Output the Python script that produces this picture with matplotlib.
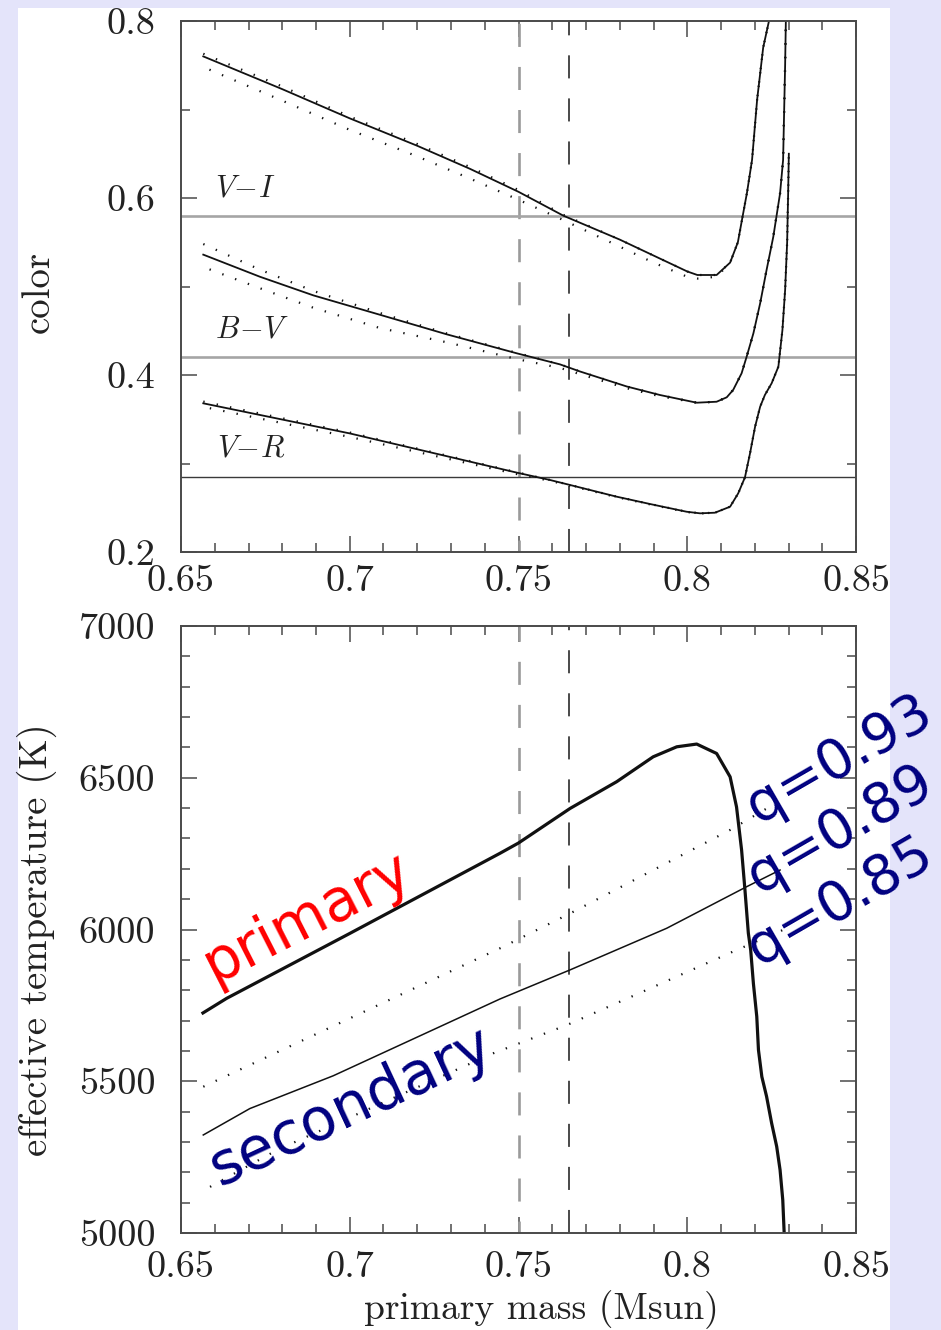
import matplotlib
matplotlib.use("Agg")
import matplotlib.pyplot as plt
from matplotlib.patches import Rectangle
from matplotlib.ticker import FixedLocator, FixedFormatter, MultipleLocator

plt.rcParams['lines.scale_dashes'] = False
plt.rcParams['mathtext.fontset'] = 'cm'
plt.rcParams['font.family'] = ['cmr10', 'DejaVu Serif']
plt.rcParams['axes.formatter.use_mathtext'] = True

# ---------------- data: top panel (colours) ----------------
vi_mass = [0.6566, 0.68, 0.70, 0.72, 0.7356, 0.75, 0.7633, 0.78, 0.79, 0.80, 0.803,
           0.8087, 0.8127, 0.8150, 0.8162, 0.8177, 0.8192, 0.8207, 0.8225, 0.8245]
vi_solid = [0.760, 0.723, 0.690, 0.659, 0.633, 0.607, 0.580, 0.553, 0.535, 0.517, 0.513,
            0.513, 0.527, 0.550, 0.575, 0.606, 0.643, 0.711, 0.770, 0.805]
vi_hi = [0.763, 0.726, 0.692, 0.661, 0.635, 0.609, 0.581, 0.553, 0.535, 0.517, 0.513,
         0.513, 0.527, 0.550, 0.575, 0.606, 0.643, 0.711, 0.770, 0.805]
vi_lo = [0.748, 0.710, 0.677, 0.647, 0.622, 0.598, 0.575, 0.545, 0.527, 0.511, 0.509,
         0.511, 0.527, 0.550, 0.575, 0.606, 0.643, 0.711, 0.770, 0.805]

bv_mass = [0.6566, 0.6734, 0.6892, 0.7090, 0.7287, 0.7495, 0.7623, 0.7682, 0.7821, 0.7919,
           0.8028, 0.8087, 0.8117, 0.8136, 0.8161, 0.8176, 0.8196, 0.8216, 0.8235, 0.8255,
           0.8275, 0.8284, 0.8290, 0.8293]
bv_solid = [0.536, 0.511, 0.490, 0.468, 0.446, 0.4245, 0.412, 0.404, 0.387, 0.3774,
            0.3687, 0.3698, 0.3748, 0.3831, 0.4019, 0.4207, 0.4471, 0.4810, 0.5186, 0.5563,
            0.6053, 0.643, 0.750, 0.820]
bv_hi = [0.548, 0.519, 0.495, 0.470, 0.447, 0.425, 0.412, 0.404, 0.387, 0.3774,
         0.3687, 0.3698, 0.3748, 0.3831, 0.4019, 0.4207, 0.4471, 0.4810, 0.5186, 0.5563,
         0.6053, 0.643, 0.750, 0.820]
bv_lo = [0.522, 0.498, 0.476, 0.453, 0.437, 0.418, 0.408, 0.401, 0.385, 0.376,
         0.3687, 0.3698, 0.3748, 0.3831, 0.4019, 0.4207, 0.4471, 0.4810, 0.5186, 0.5563,
         0.6053, 0.643, 0.750, 0.820]

vr_mass = [0.6566, 0.70, 0.7496, 0.7593, 0.7653, 0.7791, 0.7890, 0.7998, 0.8038, 0.8082,
           0.8127, 0.8151, 0.8171, 0.8186, 0.8201, 0.8216, 0.8230, 0.8250, 0.8270, 0.8282,
           0.8290, 0.8296, 0.8299, 0.8301]
vr_solid = [0.368, 0.334, 0.2896, 0.2814, 0.2757, 0.2625, 0.2542, 0.2455, 0.2437, 0.2444,
            0.2512, 0.2663, 0.2844, 0.3115, 0.3416, 0.3642, 0.3774, 0.3906, 0.4094, 0.4508,
            0.4960, 0.5500, 0.6060, 0.6500]
vr_hi = [0.370, 0.335, 0.2900, 0.2814, 0.2757, 0.2625, 0.2542, 0.2455, 0.2437, 0.2444,
         0.2512, 0.2663, 0.2844, 0.3115, 0.3416, 0.3642, 0.3774, 0.3906, 0.4094, 0.4508,
         0.4960, 0.5500, 0.6060, 0.6500]
vr_lo = [0.364, 0.330, 0.2880, 0.2805, 0.2750, 0.2620, 0.2538, 0.2452, 0.2435, 0.2444,
         0.2512, 0.2663, 0.2844, 0.3115, 0.3416, 0.3642, 0.3774, 0.3906, 0.4094, 0.4508,
         0.4960, 0.5500, 0.6060, 0.6500]

obs_colors = [0.58, 0.42, 0.285]          # V-I, B-V, V-R observed
color_names = [r'$V\!-\!I$', r'$B\!-\!V$', r'$V\!-\!R$']
color_label_pos = [(0.669, 0.610), (0.671, 0.451), (0.6707, 0.3164)]
mass_limits = [0.75, 0.765]

# ---------------- data: bottom panel (Teff) ----------------
prim_mass = [0.6565, 0.6635, 0.70, 0.7445, 0.75, 0.7653, 0.7791, 0.7899, 0.7969, 0.8028,
             0.8087, 0.8127, 0.8146, 0.8161, 0.8171, 0.8181, 0.8188, 0.8196, 0.8206, 0.8211,
             0.8221, 0.8235, 0.8250, 0.8265, 0.8275, 0.8283, 0.8287, 0.8289]
prim_teff = [5725, 5773, 5987, 6251, 6285, 6399, 6487, 6569, 6602, 6611,
             6580, 6503, 6404, 6262, 6130, 5988, 5932, 5822, 5713, 5603,
             5515, 5450, 5362, 5285, 5208, 5109, 5005, 4950]

sec_mass = [0.6566, 0.6704, 0.6951, 0.7445, 0.7653, 0.7939, 0.8176, 0.8275]
sec_teff = [5323, 5410, 5518, 5771, 5867, 6004, 6141, 6196]

q93_mass = [0.6566, 0.7445, 0.7653, 0.8127, 0.8245]
q93_teff = [5482, 5938, 6053, 6328, 6405]

q85_mass = [0.6586, 0.6784, 0.7425, 0.7643, 0.7880, 0.8127, 0.8295]
q85_teff = [5152, 5273, 5592, 5685, 5801, 5923, 6004]

q_labels = ['q=0.93', 'q=0.89', 'q=0.85']
q_label_pos = [(0.8452, 6560), (0.8452, 6330), (0.8455, 6093)]

mass_ticks = [0.65, 0.70, 0.75, 0.80, 0.85]
mass_ticklabels = ['0.65', '0.7', '0.75', '0.8', '0.85']
color_ticks = [0.2, 0.4, 0.6, 0.8]
color_ticklabels = ['0.2', '0.4', '0.6', '0.8']
teff_ticks = [5000, 5500, 6000, 6500, 7000]
teff_ticklabels = ['5000', '5500', '6000', '6500', '7000']

# ---------------- figure ----------------
W, H = 941, 1330
fig = plt.figure(figsize=(W / 100, H / 100), dpi=100, facecolor='#e4e4fa')
fig.add_artist(Rectangle((18 / W, 0), (890 - 18) / W, (H - 8) / H,
                         transform=fig.transFigure, facecolor='white',
                         edgecolor='none', zorder=-10))

ax1 = fig.add_axes([181 / W, 1 - 552 / H, 675 / W, 531 / H])
ax2 = fig.add_axes([181 / W, 1 - 1233 / H, 675 / W, 607 / H])

spine_c = '#4a4a4a'
for ax in (ax1, ax2):
    for s in ax.spines.values():
        s.set_linewidth(1.4)
        s.set_color(spine_c)
    ax.set_xlim(0.65, 0.85)
    ax.xaxis.set_major_locator(FixedLocator(mass_ticks))
    ax.xaxis.set_major_formatter(FixedFormatter(mass_ticklabels))
    ax.xaxis.set_minor_locator(MultipleLocator(0.01))
    ax.tick_params(which='both', direction='in', top=True, right=True,
                   color=spine_c, width=1.1, labelsize=27.5, labelcolor='#222222')
    ax.tick_params(which='major', length=11.5)
    ax.tick_params(which='minor', length=6.5)
    ax.tick_params(axis='y', pad=18.5)

ax1.tick_params(axis='x', pad=9)
ax2.tick_params(axis='x', pad=12.5)

# top panel
ax1.set_ylim(0.2, 0.8)
ax1.yaxis.set_major_locator(FixedLocator(color_ticks))
ax1.yaxis.set_major_formatter(FixedFormatter(color_ticklabels))
ax1.yaxis.set_minor_locator(MultipleLocator(0.1))

dot = (0, (1.0, 8.8))
ax1.axvline(mass_limits[0], color='#9a9a9a', lw=1.9, ls=(8, (16.6, 14.4)))
ax1.axvline(mass_limits[1], color='#2a2a2a', lw=1.2, ls=(0, (16.6, 14.4)))
ax1.axhline(obs_colors[0], color='#a5a5a5', lw=1.9)
ax1.axhline(obs_colors[1], color='#a5a5a5', lw=1.9)
ax1.axhline(obs_colors[2], color='#3a3a3a', lw=1.0)

for m, s, hi, lo in [(vi_mass, vi_solid, vi_hi, vi_lo),
                     (bv_mass, bv_solid, bv_hi, bv_lo),
                     (vr_mass, vr_solid, vr_hi, vr_lo)]:
    ax1.plot(m, s, color='#111111', lw=1.3, solid_joinstyle='round')
    ax1.plot(m, hi, color='#111111', lw=1.6, ls=dot)
    ax1.plot(m, lo, color='#111111', lw=1.6, ls=(5, (1.0, 8.8)))

for name, (x, y) in zip(color_names, color_label_pos):
    ax1.text(x, y, name, fontsize=22, ha='center', va='center', color='#222222')

# bottom panel
ax2.set_ylim(5000, 7000)
ax2.yaxis.set_major_locator(FixedLocator(teff_ticks))
ax2.yaxis.set_major_formatter(FixedFormatter(teff_ticklabels))
ax2.yaxis.set_minor_locator(MultipleLocator(100))

ax2.axvline(mass_limits[0], color='#9a9a9a', lw=1.9, ls=(8, (16.6, 14.4)))
ax2.axvline(mass_limits[1], color='#2a2a2a', lw=1.2, ls=(0, (16.6, 14.4)))

ax2.plot(prim_mass, prim_teff, color='#111111', lw=2.3, solid_joinstyle='round')
ax2.plot(sec_mass, sec_teff, color='#111111', lw=1.1)
ax2.plot(q93_mass, q93_teff, color='#111111', lw=1.6, ls=dot)
ax2.plot(q85_mass, q85_teff, color='#111111', lw=1.6, ls=dot)

ax2.text(0.6875, 6041, 'primary', color='#ff0000', fontsize=41.5, rotation=27,
         rotation_mode='anchor', ha='center', va='center', family='DejaVu Sans')
ax2.text(0.7005, 5416, 'secondary', color='#000080', fontsize=42.5, rotation=25,
         rotation_mode='anchor', ha='center', va='center', family='DejaVu Sans')
for lab, (x, y) in zip(q_labels, q_label_pos):
    ax2.text(x, y, lab, color='#000080', fontsize=40, rotation=30,
             rotation_mode='anchor', ha='center', va='center',
             family='DejaVu Sans', clip_on=False)

# axis titles
fig.text(39 / W, 1 - 292 / H, 'color', rotation=90, fontsize=28,
         ha='center', va='center', color='#222222')
fig.text(37 / W, 1 - 940 / H, 'effective temperature (K)', rotation=90,
         fontsize=28, ha='center', va='center', color='#222222')
fig.text(541 / W, 1 - 1319 / H, 'primary mass (Msun)', fontsize=27,
         ha='center', va='baseline', color='#222222')

fig.savefig('out.png', dpi=100, facecolor=fig.get_facecolor())
